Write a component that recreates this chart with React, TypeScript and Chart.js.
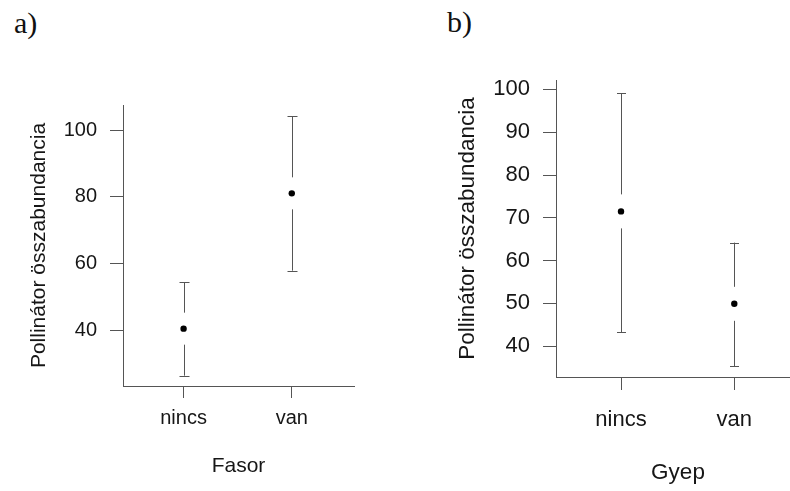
import React, { useEffect, useRef } from "react";
import { Chart, registerables } from "chart.js";

Chart.register(...registerables);

// ---- data ----
const CATEGORIES = ["nincs", "van"];

const A_MEAN = [40.4, 81.0];
const A_LOWER = [26.3, 57.8];
const A_UPPER = [54.3, 104.1];
const A_Y_TICKS = [40, 60, 80, 100];

const B_MEAN = [71.5, 49.9];
const B_LOWER = [43.3, 35.3];
const B_UPPER = [99.1, 64.2];
const B_Y_TICKS = [40, 50, 60, 70, 80, 90, 100];

const Y_TITLE = "Pollinátor összabundancia";
const A_X_TITLE = "Fasor";
const B_X_TITLE = "Gyep";

const FONT = "'Liberation Sans', Arial, Helvetica, sans-serif";
const TEXT = "#161616";
const LINE = "#555555";

const errorBarPlugin = {
  id: "errorBars",
  afterDatasetsDraw(chart: any, _args: any, opts: any) {
    const { ctx } = chart;
    const xs = chart.scales.x;
    const ys = chart.scales.y;
    const lower: number[] = opts.lower || [];
    const upper: number[] = opts.upper || [];
    const mean: number[] = opts.mean || [];
    const gap: number = opts.gap || 16;
    const cap: number = opts.cap || 5;
    ctx.save();
    ctx.strokeStyle = LINE;
    ctx.lineWidth = 1;
    for (let i = 0; i < mean.length; i++) {
      const px = Math.round(xs.getPixelForValue(i + 1)) + 0.5;
      const yl = ys.getPixelForValue(lower[i]);
      const yu = ys.getPixelForValue(upper[i]);
      const ym = ys.getPixelForValue(mean[i]);
      ctx.beginPath();
      ctx.moveTo(px, yu);
      ctx.lineTo(px, ym - gap);
      ctx.moveTo(px, ym + gap);
      ctx.lineTo(px, yl);
      ctx.moveTo(px - cap, Math.round(yu) + 0.5);
      ctx.lineTo(px + cap, Math.round(yu) + 0.5);
      ctx.moveTo(px - cap, Math.round(yl) + 0.5);
      ctx.lineTo(px + cap, Math.round(yl) + 0.5);
      ctx.stroke();
    }
    ctx.restore();
  },
};

type PanelCfg = {
  width: number;
  height: number;
  mean: number[];
  lower: number[];
  upper: number[];
  yTicks: number[];
  yMin: number;
  yMax: number;
  xMin: number;
  xMax: number;
  xTitle: string;
  padTop: number;
  padRight: number;
  yAxisWidth: number;
  xAxisHeight: number;
  tickFont: number;
  labelFont: number;
  titleFont: number;
  yTickPad: number;
  yTickLen: number;
  xTickPad: number;
  xTickLen: number;
  yTitlePad: number;
  xTitlePad: number;
  gap: number;
  cap: number;
};

function Panel({ cfg, left }: { cfg: PanelCfg; left: number }) {
  const ref = useRef<HTMLCanvasElement | null>(null);
  useEffect(() => {
    if (!ref.current) return;
    const chart = new Chart(ref.current, {
      type: "scatter",
      data: {
        datasets: [
          {
            data: cfg.mean.map((m, i) => ({ x: i + 1, y: m })),
            backgroundColor: "#000",
            borderColor: "#000",
            pointRadius: 3.2,
            pointBorderWidth: 0,
          },
        ],
      },
      options: {
        animation: false,
        responsive: false,
        devicePixelRatio: 1,
        layout: { padding: { top: cfg.padTop, right: cfg.padRight, left: 0, bottom: 0 } },
        plugins: {
          legend: { display: false },
          tooltip: { enabled: false },
          errorBars: { mean: cfg.mean, lower: cfg.lower, upper: cfg.upper, gap: cfg.gap, cap: cfg.cap },
        } as any,
        scales: {
          x: {
            type: "linear",
            min: cfg.xMin,
            max: cfg.xMax,
            afterBuildTicks: (s: any) => {
              s.ticks = CATEGORIES.map((_, i) => ({ value: i + 1 }));
            },
            afterFit: (s: any) => {
              s.height = cfg.xAxisHeight;
            },
            grid: { drawOnChartArea: false, drawTicks: true, tickLength: cfg.xTickLen, color: LINE, lineWidth: 1 },
            border: { display: true, color: LINE, width: 1 },
            ticks: {
              color: TEXT,
              padding: cfg.xTickPad,
              maxRotation: 0,
              autoSkip: false,
              font: { family: FONT, size: cfg.labelFont },
              callback: (_v: any, i: number) => CATEGORIES[i],
            },
            title: {
              display: true,
              text: cfg.xTitle,
              color: TEXT,
              font: { family: FONT, size: cfg.titleFont },
              padding: { top: 0, bottom: cfg.xTitlePad },
            },
          },
          y: {
            type: "linear",
            min: cfg.yMin,
            max: cfg.yMax,
            afterBuildTicks: (s: any) => {
              s.ticks = cfg.yTicks.map((v) => ({ value: v }));
            },
            afterFit: (s: any) => {
              s.width = cfg.yAxisWidth;
            },
            grid: { drawOnChartArea: false, drawTicks: true, tickLength: cfg.yTickLen, color: LINE, lineWidth: 1 },
            border: { display: true, color: LINE, width: 1 },
            ticks: {
              color: TEXT,
              padding: cfg.yTickPad,
              autoSkip: false,
              font: { family: FONT, size: cfg.tickFont },
              callback: (v: any) => String(v),
            },
            title: {
              display: true,
              text: Y_TITLE,
              color: TEXT,
              font: { family: FONT, size: cfg.titleFont },
              padding: { top: cfg.yTitlePad, bottom: 0 },
            },
          },
        },
      } as any,
      plugins: [errorBarPlugin],
    });
    return () => chart.destroy();
  }, [cfg]);
  return (
    <canvas
      ref={ref}
      width={cfg.width}
      height={cfg.height}
      style={{ position: "absolute", left, top: 0, width: cfg.width, height: cfg.height }}
    />
  );
}

const PANEL_A: PanelCfg = {
  width: 395,
  height: 491,
  mean: A_MEAN,
  lower: A_LOWER,
  upper: A_UPPER,
  yTicks: A_Y_TICKS,
  yMin: 23.2,
  yMax: 107.5,
  xMin: 0.44,
  xMax: 2.575,
  xTitle: A_X_TITLE,
  padTop: 105,
  padRight: 41,
  yAxisWidth: 123,
  xAxisHeight: 105,
  tickFont: 20,
  labelFont: 20,
  titleFont: 21,
  yTickPad: 13,
  yTickLen: 13,
  xTickPad: 8,
  xTickLen: 12,
  yTitlePad: 27,
  xTitlePad: 12,
  gap: 16,
  cap: 5,
};

const PANEL_B: PanelCfg = {
  width: 410,
  height: 491,
  mean: B_MEAN,
  lower: B_LOWER,
  upper: B_UPPER,
  yTicks: B_Y_TICKS,
  yMin: 32.8,
  yMax: 102.2,
  xMin: 0.426,
  xMax: 2.58,
  xTitle: B_X_TITLE,
  padTop: 80,
  padRight: 5,
  yAxisWidth: 161,
  xAxisHeight: 114,
  tickFont: 22,
  labelFont: 22,
  titleFont: 22.5,
  yTickPad: 13,
  yTickLen: 13,
  xTickPad: 17,
  xTickLen: 13,
  yTitlePad: 59,
  xTitlePad: 5,
  gap: 17,
  cap: 4.5,
};

const labelStyle: React.CSSProperties = {
  position: "absolute",
  fontFamily: "'Liberation Serif', 'Times New Roman', serif",
  fontSize: 30,
  lineHeight: "30px",
  color: "#111",
  margin: 0,
};

export default function App() {
  return (
    <div
      style={{
        position: "absolute",
        left: 0,
        top: 0,
        width: 790,
        height: 491,
        overflow: "hidden",
        background: "#fff",
      }}
    >
      <div style={{ ...labelStyle, left: 14, top: 8 }}>a)</div>
      <div style={{ ...labelStyle, left: 447, top: 6.5 }}>b)</div>
      <Panel cfg={PANEL_A} left={0} />
      <Panel cfg={PANEL_B} left={395} />
    </div>
  );
}
